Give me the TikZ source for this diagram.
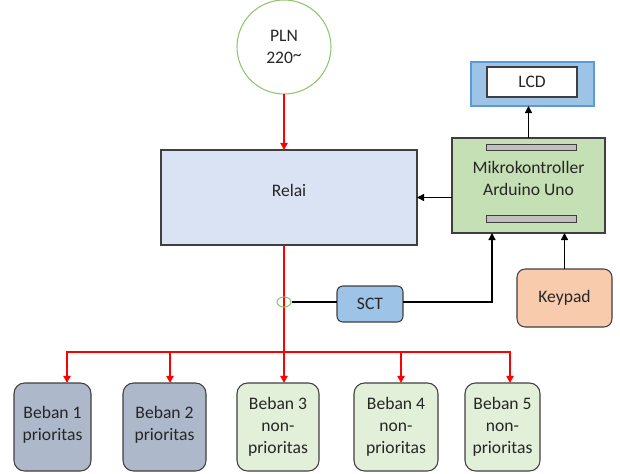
\documentclass[tikz,border=0pt]{standalone}
\usepackage{fontspec}
\setmainfont{Carlito}
\usetikzlibrary{arrows.meta,positioning,calc,shapes.geometric}
\definecolor{relaiblue}{HTML}{DAE3F3}
\definecolor{mikrogreen}{HTML}{C5E0B4}
\definecolor{lcdblue}{HTML}{9DC3E6}
\definecolor{lcdedge}{HTML}{5B9BD5}
\definecolor{keypadorange}{HTML}{F8CBAD}
\definecolor{prioslate}{HTML}{ADB9CA}
\definecolor{nonprio}{HTML}{E2F0D9}
\definecolor{plngreen}{HTML}{8CC66E}
\definecolor{edgegray}{HTML}{3F3F3F}
\definecolor{bargray}{HTML}{BFBFBF}
\newcommand\pxu{0.03cm}
\tikzset{
  box/.style={draw=edgegray, line width=0.9pt, inner sep=0pt, outer sep=0pt, align=center,
    text=black!85, font=\fontsize{15}{19}\selectfont},
  load/.style={box, rounded corners=9pt, minimum height=88*\pxu},
  pow/.style={red, line width=1.5pt, -{Triangle[length=6pt,width=6pt]}},
  sig/.style={black, line width=1.1pt, -{Triangle[length=6pt,width=6pt]}},
}

\begin{document}
\begin{tikzpicture}[x=\pxu,y=-\pxu]
    \useasboundingbox (0,0) rectangle (620,473);
    % sumber dan relai
    \node[box, circle, draw=plngreen, minimum size=94*\pxu] (pln) at (284,47) {PLN\\220\raisebox{0.4ex}{\textasciitilde}};
    \node[box, fill=relaiblue, minimum width=256*\pxu, minimum height=95*\pxu, text depth=12pt] (relai) at (289,197.5) {Relai};
    % kontroller, LCD, keypad
    \node[box, fill=mikrogreen, minimum width=153*\pxu, minimum height=95*\pxu, text depth=12pt] (mikro) at (528.5,185.5) {Mikrokontroller\\Arduino Uno};
    \draw[fill=bargray, draw=edgegray, line width=0.7pt] (486,144) rectangle (576,150);
    \draw[fill=bargray, draw=edgegray, line width=0.7pt] (486,215) rectangle (576,222);
    \node[box, fill=lcdblue, draw=lcdedge, minimum width=123*\pxu, minimum height=44*\pxu] (lcdframe) at (532.5,84) {};
    \node[box, fill=white, minimum width=90*\pxu, minimum height=30*\pxu] (lcd) at (532,82) {LCD};
    \node[box, fill=keypadorange, rounded corners=7pt, minimum width=95*\pxu, minimum height=58*\pxu] (keypad) at (564.5,298) {Keypad};
    % sensor arus
    \node[box, fill=lcdblue, rounded corners=5pt, minimum width=66*\pxu, minimum height=36*\pxu] (sct) at (370,304) {SCT};
    \coordinate (bus) at (284,352);
    % beban
    \node[load, fill=prioslate, minimum width=77*\pxu, text depth=6pt] (b1) at (52.5,427) {Beban 1\\prioritas};
    \node[load, fill=prioslate, minimum width=83*\pxu, text depth=6pt] (b2) at (164.5,427) {Beban 2\\prioritas};
    \node[load, fill=nonprio, minimum width=82*\pxu] (b3) at (278,427) {Beban 3\\non-\\prioritas};
    \node[load, fill=nonprio, minimum width=84*\pxu] (b4) at (396,427) {Beban 4\\non-\\prioritas};
    \node[load, fill=nonprio, minimum width=75*\pxu] (b5) at (502.5,427) {Beban 5\\non-\\prioritas};

    \draw[pow] (pln.south) -- (pln.south |- relai.north);
    \draw[pow] (bus |- relai.south) -- (bus |- b3.north);
    \foreach \b/\x in {b1/67,b2/170,b4/401,b5/510}
      \draw[pow] (bus) -| (\x,0 |- \b.north);
    \node[ellipse, draw=plngreen, line width=0.9pt, minimum width=14*\pxu, minimum height=10*\pxu, inner sep=0pt] (ct) at (284,302) {};
    \draw[black, line width=1.1pt] (ct.east) -- (ct.east -| sct.west);
    \draw[sig] (sct.east |- ct.east) -| ([xshift=-36.5*\pxu]mikro.south);
    \draw[sig] (keypad.north) -- (keypad.north |- mikro.south);
    \draw[sig] (mikro.west |- relai.east) -- (relai.east);
    \draw[sig] (mikro.north) -- (mikro.north |- lcdframe.south);
\end{tikzpicture}
\end{document}
